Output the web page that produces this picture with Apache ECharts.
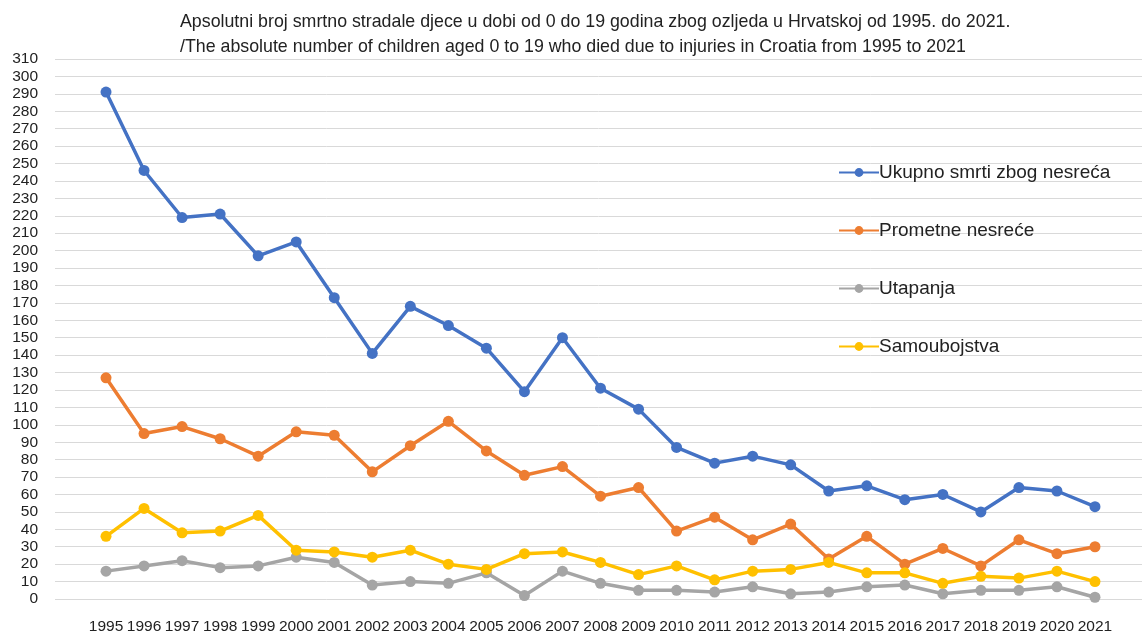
<!DOCTYPE html>
<html>
<head>
<meta charset="utf-8">
<script src="https://cdn.jsdelivr.net/npm/echarts@6/dist/echarts.min.js"></script>
<style>
  html, body { margin: 0; padding: 0; background: #fff; }
  #chart { width: 1143px; height: 634px; }
</style>
</head>
<body>
<div id="chart"></div>
<script>
const years = ["1995", "1996", "1997", "1998", "1999", "2000", "2001", "2002", "2003", "2004", "2005", "2006", "2007", "2008", "2009", "2010", "2011", "2012", "2013", "2014", "2015", "2016", "2017", "2018", "2019", "2020", "2021"]
const ukupno = [291, 246, 219, 221, 197, 205, 173, 141, 168, 157, 144, 119, 150, 121, 109, 87, 78, 82, 77, 62, 65, 57, 60, 50, 64, 62, 53]
const prometne = [127, 95, 99, 92, 82, 96, 94, 73, 88, 102, 85, 71, 76, 59, 64, 39, 47, 34, 43, 23, 36, 20, 29, 19, 34, 26, 30]
const utapanja = [16, 19, 22, 18, 19, 24, 21, 8, 10, 9, 15, 2, 16, 9, 5, 5, 4, 7, 3, 4, 7, 8, 3, 5, 5, 7, 1]
const samoubojstva = [36, 52, 38, 39, 48, 28, 27, 24, 28, 20, 17, 26, 27, 21, 14, 19, 11, 16, 17, 21, 15, 15, 9, 13, 12, 16, 10]
const seriesNames = ["Ukupno smrti zbog nesreća", "Prometne nesreće", "Utapanja", "Samoubojstva"]
const colors = ["#4472C4", "#ED7D31", "#A5A5A5", "#FFC000"]

const font = "'Liberation Sans', Arial, sans-serif"
const textColor = "#222"

const chart = echarts.init(document.getElementById("chart"), null, { renderer: "canvas" })

const makeSeries = (name, data, color) => ({
  name: name,
  type: "line",
  xAxisIndex: 1,
  yAxisIndex: 1,
  data: data,
  symbol: "circle",
  symbolSize: 11,
  lineStyle: { color: color, width: 3.5 },
  itemStyle: { color: color },
  emphasis: { disabled: true },
})

const option = {
  animation: false,
  color: colors,
  title: {
    text: "Apsolutni broj smrtno stradale djece u dobi od 0 do 19 godina zbog ozljeda u Hrvatskoj od 1995. do 2021.\n/The absolute number of children aged 0 to 19 who died due to injuries in Croatia from 1995 to 2021",
    left: 175,
    top: 5,
    textStyle: {
      fontFamily: font,
      fontSize: 17.8,
      fontWeight: "normal",
      color: textColor,
      lineHeight: 25,
    },
  },
  legend: {
    orient: "vertical",
    left: 833,
    top: 158,
    itemGap: 39,
    itemWidth: 40,
    itemHeight: 11,
    data: seriesNames,
    textStyle: { fontFamily: font, fontSize: 19, color: textColor, padding: [0, 0, 0, -5] },
  },
  grid: [
    { left: 55, right: 1, top: 59, bottom: 35, outerBoundsMode: "none" },
    { left: 87, right: 29, top: 59, bottom: 35, outerBoundsMode: "none" },
  ],
  xAxis: [
    { type: "category", gridIndex: 0, data: years, show: false },
    {
      type: "category",
      gridIndex: 1,
      data: years,
      boundaryGap: true,
      axisLine: { show: false },
      axisTick: { show: false },
      axisLabel: { color: textColor, fontFamily: font, fontSize: 15.5, margin: 20, interval: 0 },
    },
  ],
  yAxis: [
    {
      type: "value",
      gridIndex: 0,
      min: 0,
      max: 310,
      interval: 10,
      axisLine: { show: false },
      axisTick: { show: false },
      axisLabel: { color: textColor, fontFamily: font, fontSize: 15.5, margin: 17 },
      splitLine: { lineStyle: { color: "#d9d9d9", width: 1 } },
    },
    { type: "value", gridIndex: 1, min: 0, max: 310, interval: 10, show: false, splitLine: { show: false } },
  ],
  series: [
    makeSeries(seriesNames[0], ukupno, colors[0]),
    makeSeries(seriesNames[1], prometne, colors[1]),
    makeSeries(seriesNames[2], utapanja, colors[2]),
    makeSeries(seriesNames[3], samoubojstva, colors[3]),
  ],
}

chart.setOption(option)
</script>
</body>
</html>
